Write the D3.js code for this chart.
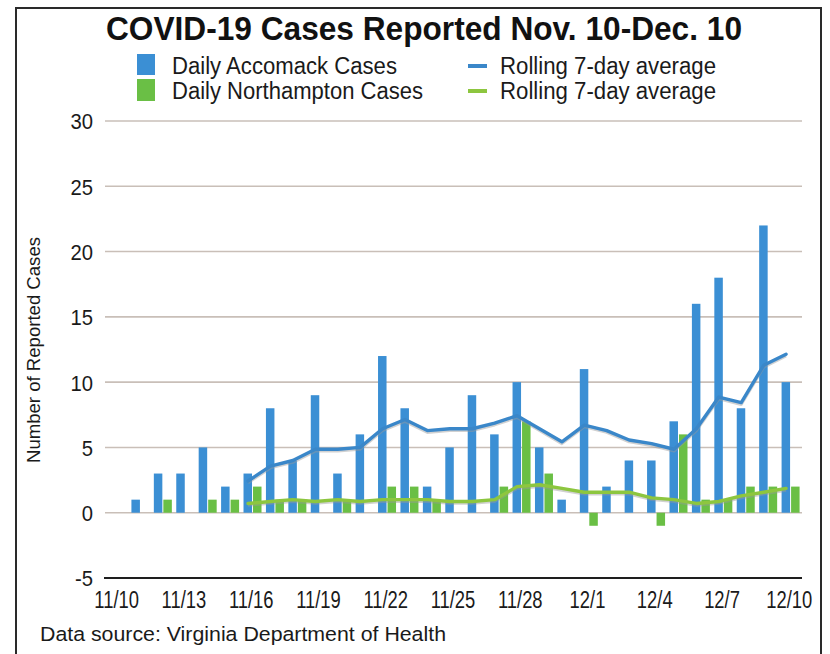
<!DOCTYPE html>
<html><head><meta charset="utf-8">
<script src="https://cdn.jsdelivr.net/npm/d3@7/dist/d3.min.js"></script>
<style>body{margin:0;background:#fff}svg{display:block}text{font-family:"Liberation Sans",Arial,sans-serif}</style>
</head><body><svg id="c" width="830" height="654"></svg>
<script>
const days = ["11/10","11/11","11/12","11/13","11/14","11/15","11/16","11/17","11/18","11/19","11/20","11/21","11/22","11/23","11/24","11/25","11/26","11/27","11/28","11/29","11/30","12/1","12/2","12/3","12/4","12/5","12/6","12/7","12/8","12/9","12/10"];
const accomack = [0,1,3,3,5,2,3,8,4,9,3,6,12,8,2,5,9,6,10,5,1,11,2,4,4,7,16,18,8,22,10];
const northampton = [0,0,1,0,1,1,2,1,1,0,1,0,2,2,1,0,0,2,7,3,0,-1,0,0,-1,6,1,1,2,2,2];
const accomackAvg = [null,null,null,null,null,null,2.43,3.57,4.0,4.86,4.86,5.0,6.43,7.14,6.29,6.43,6.43,6.86,7.43,6.43,5.43,6.71,6.29,5.57,5.29,4.86,6.43,8.86,8.43,11.29,12.14];
const northamptonAvg = [null,null,null,null,null,null,0.71,0.86,1.0,0.86,1.0,0.86,1.0,1.0,1.0,0.86,0.86,1.0,2.0,2.14,1.86,1.57,1.57,1.57,1.14,1.0,0.71,0.86,1.29,1.57,1.86];
const tickDays = ["11/10","11/13","11/16","11/19","11/22","11/25","11/28","12/1","12/4","12/7","12/10"];
const yTicks = [-5,0,5,10,15,20,25,30];

const svg = d3.select("#c");
const BLUE = "#3b8fd4", GREEN = "#6abf45", BLUEL = "#3a87c9", GREENL = "#8dc63f";

// frame
svg.append("path").attr("d","M16,670 V8 H821 V670").attr("fill","none").attr("stroke","#2a2a2a").attr("stroke-width",2);

const x = d3.scaleBand().domain(days).range([105.5, 800.5]).padding(0);
const y = d3.scaleLinear().domain([-5, 30]).range([578, 121]);

// gridlines
svg.append("g").selectAll("line").data(yTicks.filter(d => d > -5)).join("line")
  .attr("x1", 105).attr("x2", 802).attr("y1", d => y(d)).attr("y2", d => y(d))
  .attr("stroke", "#c9bfb8").attr("stroke-width", 1.6);
svg.append("line").attr("x1",104).attr("x2",802).attr("y1",y(-5)).attr("y2",y(-5)).attr("stroke","#1e1e1e").attr("stroke-width",2);

// y labels
const yAxis = d3.axisLeft(y).tickValues(yTicks).tickSize(0).tickPadding(0).tickFormat(d => String(d));
const ya = svg.append("g").attr("transform","translate(93,0)").call(yAxis);
ya.select(".domain").remove();
ya.selectAll("text").attr("font-size",22).attr("fill","#1a1a1a").attr("font-family","Liberation Sans, Arial, sans-serif").attr("dy","0.36em")
  .each(function(){ const w = this.getComputedTextLength(); this.setAttribute("textLength", w*0.92); this.setAttribute("lengthAdjust","spacingAndGlyphs"); });

// x labels
const xAxis = d3.axisBottom(x).tickValues(tickDays).tickSize(0).tickPadding(0);
const xa = svg.append("g").attr("transform","translate(0,591)").call(xAxis);
xa.select(".domain").remove();
xa.selectAll("text").attr("font-size",23).attr("fill","#1a1a1a").attr("font-family","Liberation Sans, Arial, sans-serif").attr("dy","0.74em")
  .each(function(){ const w = this.getComputedTextLength(); this.setAttribute("textLength", w*0.8); this.setAttribute("lengthAdjust","spacingAndGlyphs"); });

// bars
function barY(v){ return v >= 0 ? y(v) : y(0); }
function barH(v){ return Math.abs(y(v) - y(0)); }
svg.append("g").selectAll("rect").data(days).join("rect")
  .attr("x", (d) => x(d) + 3.5).attr("width", 8.5)
  .attr("y", (d,i) => barY(accomack[i])).attr("height", (d,i) => barH(accomack[i]))
  .attr("fill", BLUE);
svg.append("g").selectAll("rect").data(days).join("rect")
  .attr("x", (d) => x(d) + 13).attr("width", 8.5)
  .attr("y", (d,i) => barY(northampton[i])).attr("height", (d,i) => barH(northampton[i]))
  .attr("fill", GREEN);

// lines
function drawLine(vals, color){
  const pts = days.map((d,i) => [x(d) + 8, vals[i]]).filter(p => p[1] != null);
  const gen = d3.line().x(p => p[0]).y(p => y(p[1]));
  svg.append("path").attr("d", gen(pts)).attr("fill","none").attr("stroke","#9a9a9a").attr("stroke-opacity",0.45)
    .attr("stroke-width",3).attr("transform","translate(0,1.8)").attr("stroke-linejoin","round");
  svg.append("path").attr("d", gen(pts)).attr("fill","none").attr("stroke",color).attr("stroke-width",3.4).attr("stroke-linejoin","round").attr("stroke-linecap","round");
}
drawLine(northamptonAvg, GREENL);
drawLine(accomackAvg, BLUEL);

// title
svg.append("text").attr("x",424).attr("y",40).attr("text-anchor","middle").attr("font-size",34).attr("font-weight","bold")
  .attr("fill","#111").attr("textLength",636).attr("lengthAdjust","spacingAndGlyphs").text("COVID-19 Cases Reported Nov. 10-Dec. 10");

// legend
const leg = svg.append("g");
leg.append("rect").attr("x",137).attr("y",54).attr("width",18).attr("height",21).attr("fill",BLUE);
leg.append("rect").attr("x",137).attr("y",79).attr("width",18).attr("height",22).attr("fill",GREEN);
leg.append("text").attr("x",172).attr("y",74).attr("font-size",23).attr("fill","#1a1a1a").attr("textLength",225).attr("lengthAdjust","spacingAndGlyphs").text("Daily Accomack Cases");
leg.append("text").attr("x",172).attr("y",99).attr("font-size",23).attr("fill","#1a1a1a").attr("textLength",251).attr("lengthAdjust","spacingAndGlyphs").text("Daily Northampton Cases");
leg.append("line").attr("x1",468).attr("x2",487).attr("y1",66).attr("y2",66).attr("stroke",BLUEL).attr("stroke-width",4);
leg.append("line").attr("x1",468).attr("x2",487).attr("y1",91).attr("y2",91).attr("stroke",GREENL).attr("stroke-width",4);
leg.append("text").attr("x",500).attr("y",74).attr("font-size",23).attr("fill","#1a1a1a").attr("textLength",216).attr("lengthAdjust","spacingAndGlyphs").text("Rolling 7-day average");
leg.append("text").attr("x",500).attr("y",99).attr("font-size",23).attr("fill","#1a1a1a").attr("textLength",216).attr("lengthAdjust","spacingAndGlyphs").text("Rolling 7-day average");

// y axis title
svg.append("text").attr("transform","translate(40,350) rotate(-90)").attr("text-anchor","middle").attr("font-size",18)
  .attr("fill","#1a1a1a").attr("textLength",226).attr("lengthAdjust","spacingAndGlyphs").text("Number of Reported Cases");

// source
svg.append("text").attr("x",40).attr("y",641).attr("font-size",20.5).attr("fill","#1a1a1a").attr("textLength",406).attr("lengthAdjust","spacingAndGlyphs").text("Data source: Virginia Department of Health");
</script></body></html>
